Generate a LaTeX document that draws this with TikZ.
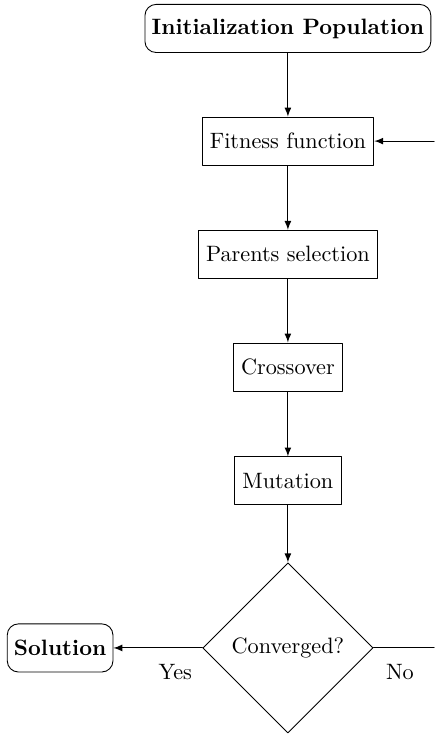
\documentclass[tikz,border=0pt]{standalone}
\usetikzlibrary{shapes.geometric}

\tikzset{
  stepbox/.style={draw,rectangle,minimum height=0.76cm,inner xsep=3.5pt},
  endbox/.style={draw,rectangle,rounded corners=5pt,minimum height=0.76cm,inner xsep=3pt,font=\bfseries},
  testbox/.style={draw,diamond,aspect=1,minimum width=2.69cm,minimum height=2.69cm,inner sep=0pt}
}

\begin{document}
\begin{tikzpicture}[x=1cm,y=1cm,line cap=round,line join=round,>=latex]
  \useasboundingbox (0,0) rectangle (6.86,11.60);

  \node[endbox] (init) at (4.55,11.15) {Initialization Population};
  \node[stepbox] (fit) at (4.55,9.37) {Fitness function};
  \node[stepbox] (sel) at (4.55,7.58) {Parents selection};
  \node[stepbox] (cross) at (4.55,5.80) {Crossover};
  \node[stepbox] (mut) at (4.55,4.00) {Mutation};
  \node[testbox] (conv) at (4.55,1.36) {Converged?};
  \node[endbox] (sol) at (0.95,1.36) {Solution};

  \coordinate (back) at (6.86,9.37);
  \coordinate (noend) at (6.86,1.36);

  \draw[->] (init) -- (fit);
  \draw[->] (fit) -- (sel);
  \draw[->] (sel) -- (cross);
  \draw[->] (cross) -- (mut);
  \draw[->] (mut) -- (conv);
  \draw[->] (conv) -- (sol);
  \draw (conv) -- (noend);
  \draw[->] (back) -- (fit);

  \node (yes) at (2.77,0.98) {Yes};
  \node (no) at (6.32,0.98) {No};
\end{tikzpicture}
\end{document}
